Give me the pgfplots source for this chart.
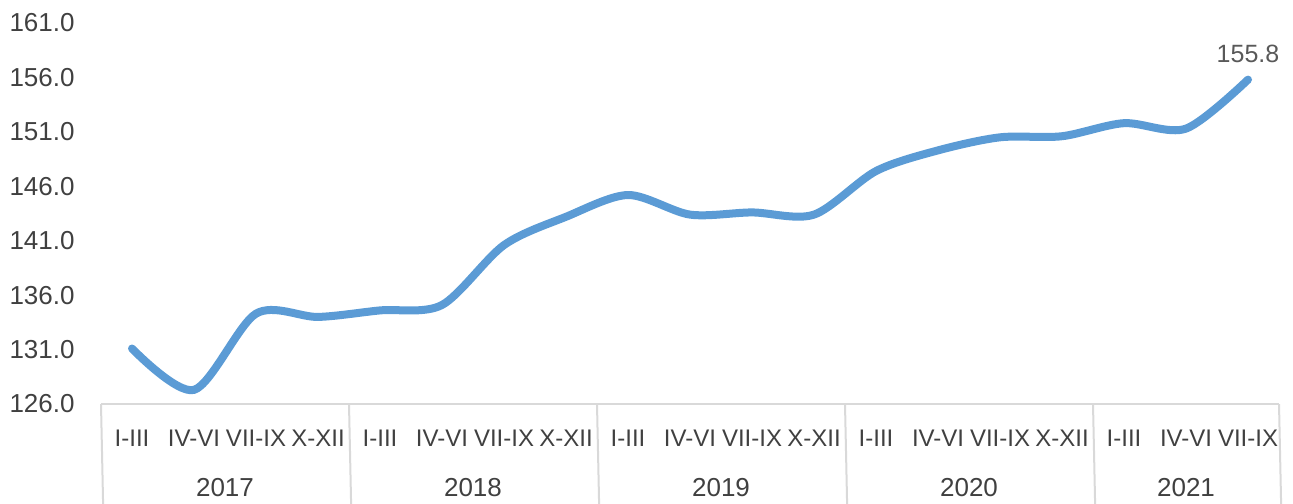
\documentclass[border=0pt]{standalone}
\usepackage{pgfplots}
\pgfplotsset{compat=1.18}
\usepackage{fontspec}
\setmainfont{Liberation Sans}
\definecolor{lineblue}{HTML}{5B9BD5}
\definecolor{gridgray}{HTML}{D9D9D9}
\definecolor{txtgray}{HTML}{404040}
\definecolor{lblgray}{HTML}{595959}
\begin{document}
\fontsize{13}{15}\selectfont
\begin{tikzpicture}
\begin{axis}[
  scale only axis,
  width=589pt, height=190.5pt,
  xmin=-0.5, xmax=18.5,
  ymin=126, ymax=161,
  ytick={126,131,136,141,146,151,156,161},
  xtick=data,
  xticklabels={I-III,IV-VI,VII-IX,X-XII,I-III,IV-VI,VII-IX,X-XII,I-III,IV-VI,VII-IX,X-XII,I-III,IV-VI,VII-IX,X-XII,I-III,IV-VI,VII-IX},
  axis x line*=bottom,
  axis y line*=left,
  x axis line style={draw=gridgray, line width=1pt, -},
  y axis line style={draw=none},
  major tick length=0pt,
  /pgf/number format/assume math mode=true,
  yticklabel style={/pgf/number format/.cd, fixed, fixed zerofill, precision=1, /tikz/.cd, anchor=east, inner sep=0pt, xshift=-13pt, text=txtgray, font=\fontsize{13}{15}\selectfont},
  xticklabel style={anchor=center, inner sep=0pt, yshift=-17pt, text=txtgray, font=\fontsize{12}{14}\selectfont},
  clip=false,
]
\addplot[lineblue, line width=4pt, smooth, line cap=round] coordinates {
(0,131.1) (1,127.3) (2,134.3) (3,134.0) (4,134.6) (5,135.1) (6,140.6) (7,143.2) (8,145.2) (9,143.4) (10,143.6) (11,143.4) (12,147.4) (13,149.3) (14,150.5) (15,150.6) (16,151.8) (17,151.3) (18,155.8)
};
\addplot[draw=none, mark=none, nodes near coords, point meta=explicit symbolic,
  every node near coord/.style={anchor=center, yshift=13pt, text=lblgray, font=\fontsize{12.5}{15}\selectfont}]
  coordinates {(18,155.8) [155.8]};
\pgfplotsinvokeforeach{-0.5,3.5,7.5,11.5,15.5,18.5}{
  \draw[gridgray, line width=1pt] (axis cs:#1,126) -- ++(0,-49.5pt);
}
\node[text=txtgray, yshift=-42pt] at (axis cs:1.5,126) {2017};
\node[text=txtgray, yshift=-42pt] at (axis cs:5.5,126) {2018};
\node[text=txtgray, yshift=-42pt] at (axis cs:9.5,126) {2019};
\node[text=txtgray, yshift=-42pt] at (axis cs:13.5,126) {2020};
\node[text=txtgray, yshift=-42pt] at (axis cs:17,126) {2021};
\end{axis}
\pgfresetboundingbox
\path[use as bounding box] ([xshift=-50.5pt,yshift=-49.5pt]current axis.south west) rectangle ([xshift=7pt,yshift=11.5pt]current axis.north east);
\end{tikzpicture}
\end{document}
